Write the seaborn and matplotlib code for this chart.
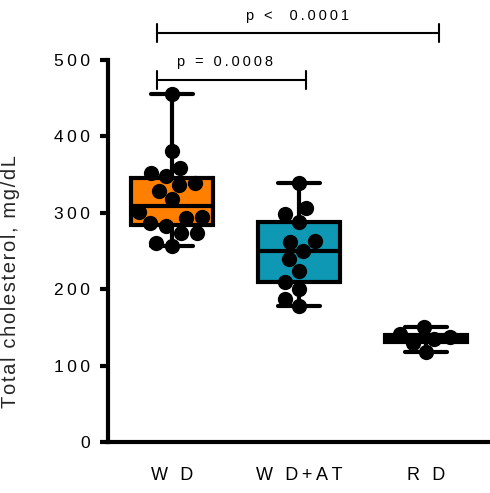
import numpy as np
import pandas as pd
import matplotlib
matplotlib.use("Agg")
import matplotlib.pyplot as plt
import seaborn as sns

# ---- data ----
groups = ["WD", "WD+AT", "RD"]
tick_labels = ["W D", "W D+AT", "R D"]
wd = [455, 381, 352, 359, 348, 336, 329, 339, 318, 301, 295, 287, 293, 283, 274, 274, 257, 260]
wd_at = [339, 306, 298, 288, 263, 262, 250, 240, 224, 209, 200, 187, 178]
rd = [150, 141, 118, 135, 130, 138]
colors = ["#FF7F00", "#0F98B4", "#8C8C8C"]
y_ticks = [0, 100, 200, 300, 400, 500]
ylabel = "Total cholesterol, mg/dL"
comparisons = [("WD", "WD+AT", "p = 0.0008"), ("WD", "RD", "p <  0.0001")]

sns.set_theme(style="ticks")
plt.rcParams["font.family"] = ["Liberation Sans", "DejaVu Sans"]


def tracked(s, sep="\u2009"):
    return sep.join(list(s))


df = pd.DataFrame({
    "group": ["WD"] * len(wd) + ["WD+AT"] * len(wd_at) + ["RD"] * len(rd),
    "value": wd + wd_at + rd,
})

fig = plt.figure(figsize=(4.9, 4.93), dpi=100)
ax = fig.add_axes([108 / 490, 1 - 442 / 493, 382 / 490, 382 / 493])
ax.set_xlim(-0.505, 2.505)
ax.set_ylim(0, 500)

sns.boxplot(data=df, x="group", y="value", hue="group", order=groups,
            hue_order=groups, palette=colors, saturation=1, width=0.65,
            linewidth=3, linecolor="black", whis=(0, 100), showfliers=False,
            legend=False, ax=ax, zorder=2)
ax.set_xlim(-0.505, 2.505)
ax.set_ylim(0, 500)
sns.swarmplot(data=df, x="group", y="value", order=groups, color="black",
              size=11, ax=ax, zorder=4)

ax.set_xlim(-0.505, 2.505)
ax.set_ylim(0, 500)
ax.set_yticks(y_ticks)
ax.set_yticklabels([tracked(str(t)) for t in y_ticks], fontsize=12.5)
ax.set_xticks(range(len(groups)))
ax.set_xticklabels([tracked(t) for t in tick_labels], fontsize=13)
ax.set_xlabel("")
ax.set_ylabel(tracked(ylabel, "\u200a"), fontsize=14.5)
ax.yaxis.set_label_coords(-0.23, 0.42)

for side in ["top", "right"]:
    ax.spines[side].set_visible(False)
for side in ["left", "bottom"]:
    ax.spines[side].set_linewidth(3)
    ax.spines[side].set_color("black")
ax.tick_params(axis="y", length=6, width=3, pad=7, colors="black")
ax.tick_params(axis="x", length=0, pad=18, colors="black")

# significance brackets
pos = {g: i for i, g in enumerate(groups)}
bracket_y = [474, 535]
x_left_off = -0.118
x_right_off = [0.055, 0.10]
text_shift = [-0.05, 0.0]
for (g1, g2, txt), yb, xo, ts in zip(comparisons, bracket_y, x_right_off, text_shift):
    x1 = pos[g1] + x_left_off
    x2 = pos[g2] + xo
    ax.plot([x1, x2], [yb, yb], color="black", lw=1.5, clip_on=False)
    for xx in (x1, x2):
        ax.plot([xx, xx], [yb - 12, yb + 12], color="black", lw=1.5,
                clip_on=False)
    ax.text((x1 + x2) / 2 + ts, yb + 14, tracked(txt), ha="center",
            va="bottom", fontsize=10.5, color="black", clip_on=False)

fig.savefig("out.png", dpi=100)
